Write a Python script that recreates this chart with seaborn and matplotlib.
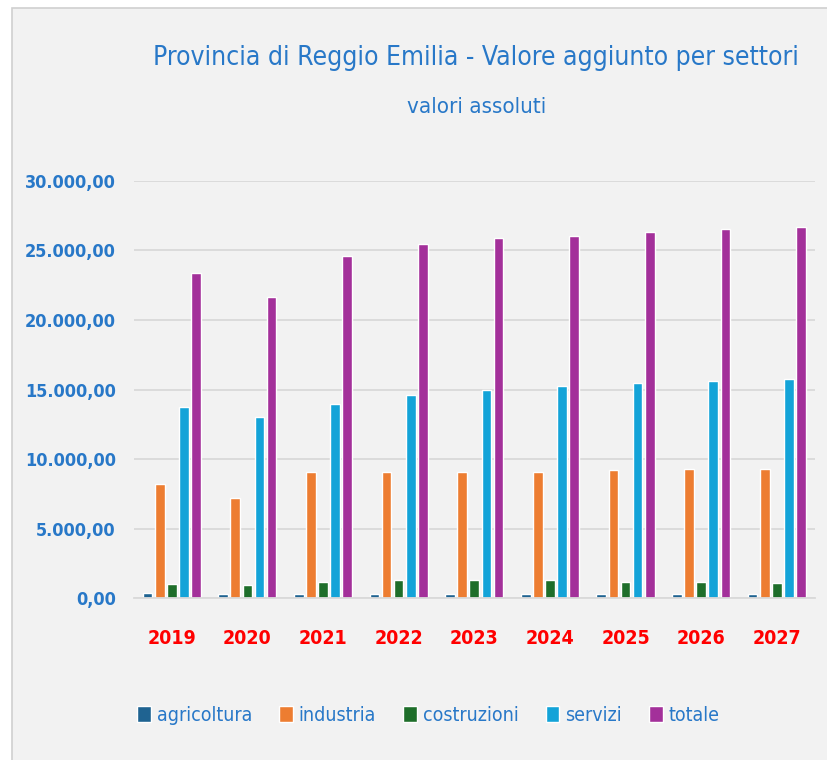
import pandas as pd
import numpy as np
import matplotlib
matplotlib.use("Agg")
import matplotlib.pyplot as plt
import seaborn as sns
from matplotlib.ticker import FuncFormatter
from matplotlib.patches import Rectangle

anni = ["2019", "2020", "2021", "2022", "2023", "2024", "2025", "2026", "2027"]
settori = ["agricoltura", "industria", "costruzioni", "servizi", "totale"]

agricoltura = [350, 330, 290, 280, 280, 280, 280, 280, 280]
industria = [8200, 7200, 9060, 9060, 9060, 9060, 9200, 9280, 9300]
costruzioni = [1000, 950, 1150, 1300, 1300, 1300, 1150, 1130, 1100]
servizi = [13740, 13020, 13950, 14600, 14960, 15250, 15470, 15610, 15760]
totale = [23400, 21650, 24600, 25490, 25880, 26060, 26330, 26550, 26710]

colori = ["#1f6391", "#ed7d31", "#1e6e2a", "#13a3d8", "#a3309a"]
blu = "#2878c8"

df = pd.DataFrame({"anno": anni, "agricoltura": agricoltura, "industria": industria,
                   "costruzioni": costruzioni, "servizi": servizi, "totale": totale})
df = df.melt(id_vars="anno", var_name="settore", value_name="valore")

sns.set_style("white")
plt.rcParams["font.family"] = ["DejaVu Sans"]
plt.rcParams["font.stretch"] = "condensed"

fig = plt.figure(figsize=(8.27, 7.6), dpi=100, facecolor="white")
fig.patches.append(Rectangle((12 / 827, -0.01), 1.0, 1 - 8 / 760 + 0.01,
                             transform=fig.transFigure, facecolor="#f2f2f2",
                             edgecolor="#d0d0d0", linewidth=1.2, zorder=-10))

ax = fig.add_axes([0.162, 0.213, 0.823, 0.549])
ax.set_facecolor("none")
sns.barplot(data=df, x="anno", y="valore", hue="settore", hue_order=settori,
            order=anni, palette=colori, width=0.8, gap=0.2, saturation=1,
            ax=ax, legend=True)

ax.set_ylim(0, 30000)
ax.set_yticks(np.arange(0, 30001, 5000))
ax.yaxis.set_major_formatter(FuncFormatter(
    lambda v, p: f"{v:,.2f}".replace(",", "X").replace(".", ",").replace("X", ".")))
ax.grid(axis="y", color="#d9d9d9", linewidth=1.3)
ax.set_axisbelow(True)
for s in ["top", "right", "left"]:
    ax.spines[s].set_visible(False)
ax.spines["bottom"].set_color("#d9d9d9")
ax.spines["bottom"].set_linewidth(1.3)
ax.set_xlabel("")
ax.set_ylabel("")
ax.tick_params(axis="y", length=0, pad=13, labelsize=13, labelcolor=blu)
ax.tick_params(axis="x", length=0, pad=22, labelsize=14, labelcolor="#ff0000")
for t in ax.get_yticklabels():
    t.set_fontweight("bold")
for t in ax.get_xticklabels():
    t.set_fontweight("bold")

leg = ax.legend(loc="center", bbox_to_anchor=(0.518, 0.059), bbox_transform=fig.transFigure,
                ncol=5, frameon=False, fontsize=14, handlelength=0.7, handleheight=0.9,
                handletextpad=0.3, columnspacing=1.4)
for t in leg.get_texts():
    t.set_color(blu)

fig.text(0.576, 0.924, "Provincia di Reggio Emilia - Valore aggiunto per settori",
         ha="center", va="center", fontsize=19, color=blu)
fig.text(0.576, 0.859, "valori assoluti", ha="center", va="center", fontsize=16, color=blu)

fig.savefig("out.png", dpi=100, facecolor=fig.get_facecolor())
